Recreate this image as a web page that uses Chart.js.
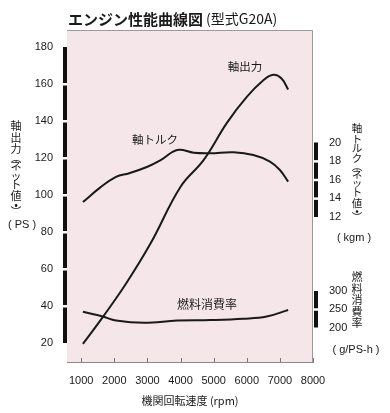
<!DOCTYPE html>
<html>
<head>
<meta charset="utf-8">
<script src="https://cdn.jsdelivr.net/npm/chart.js@4.4.1/dist/chart.umd.min.js"></script>
<style>
  body { margin: 0; background: #fff; }
</style>
</head>
<body>
<canvas id="chart" width="390" height="413"></canvas>
<script>
const rpmTicks = [1000, 2000, 3000, 4000, 5000, 6000, 7000, 8000];
const psTicks = [20, 40, 60, 80, 100, 120, 140, 160, 180];
const torqueTicks = [12, 14, 16, 18, 20];
const fuelTicks = [200, 250, 300];

// 軸出力 (PS)
const powerRpm = [1050, 1650, 2350, 3100, 4000, 4700, 5400, 6000, 6500, 6800, 7050, 7250];
const powerPs = [19.5, 34, 52, 74, 104.5, 119, 139, 153, 162, 165, 163, 157];

// 軸トルク (kgm)
const torqueRpm = [1050, 1550, 2050, 2450, 3000, 3400, 3900, 4400, 4900, 5600, 6200, 6700, 7000, 7250];
const torqueKgm = [13.6, 15.1, 16.3, 16.7, 17.4, 18.1, 19.2, 18.9, 18.85, 18.95, 18.65, 17.95, 17.05, 15.8];

// 燃料消費率 (g/PS-h)
const fuelRpm = [1050, 1650, 2050, 2900, 3900, 4900, 5900, 6600, 7250];
const fuelG = [243, 230, 219, 213, 219, 220.5, 224, 230, 248];

const jp = "'Noto Sans CJK JP', sans-serif";
const ink = "#1a1a1a";

Chart.defaults.font.family = "'Liberation Sans', Arial, sans-serif";
Chart.defaults.color = ink;

const toPoints = (xs, ys) => xs.map((x, i) => ({ x: x, y: ys[i] }));
const setTicks = (list) => (scale) => { scale.ticks = list.map((v) => ({ value: v })); };

function lineSet(xs, ys, axis) {
  return {
    data: toPoints(xs, ys),
    yAxisID: axis,
    borderColor: ink,
    borderWidth: 2,
    pointRadius: 0,
    tension: 0.4,
    fill: false,
  };
}

function drawBar(ctx, scale, ticks, x) {
  const px = ticks.map((v) => scale.getPixelForValue(v));
  const top = Math.min(...px);
  const bottom = Math.max(...px);
  ctx.fillStyle = "#111";
  ctx.fillRect(x, top, 4, bottom - top);
  ctx.fillStyle = "#fff";
  px.slice(1, -1).forEach((p) => ctx.fillRect(x, p - 1, 4, 2.5));
}

function drawVertical(ctx, text, x, y, size) {
  ctx.font = size + "px " + jp;
  ctx.textAlign = "center";
  ctx.textBaseline = "middle";
  for (const ch of text) {
    let step = size * 1.05;
    if ("︵︶•".includes(ch)) step = size * 0.6;
    else if ("ッ".includes(ch)) step = size * 0.8;
    else if ("トルクネ".includes(ch)) step = size * 0.92;
    ctx.fillText(ch, x, y + step / 2);
    y += step;
  }
}

const decor = {
  id: "decor",
  afterLayout(chart) {
    // both right-hand scales share the strip next to the plot
    const s = chart.scales.y3;
    s.left = chart.chartArea.right;
    s.right = chart.width;
    s.width = s.right - s.left;
  },
  beforeDraw(chart) {
    const { ctx, chartArea: a } = chart;
    ctx.save();
    ctx.fillStyle = "#f4e6e9";
    ctx.fillRect(a.left, a.top, a.right - a.left, a.bottom - a.top);
    ctx.strokeStyle = "#9a9a9a";
    ctx.lineWidth = 1;
    ctx.beginPath();
    ctx.moveTo(a.left, a.top + 0.5);
    ctx.lineTo(a.right - 0.5, a.top + 0.5);
    ctx.lineTo(a.right - 0.5, a.bottom);
    ctx.stroke();
    ctx.restore();
  },
  afterDraw(chart) {
    const { ctx, chartArea: a, scales } = chart;
    ctx.save();

    // short ticks into the plot on the rpm axis
    ctx.strokeStyle = "#777";
    ctx.lineWidth = 1;
    rpmTicks.forEach((v) => {
      const px = Math.round(scales.x.getPixelForValue(v)) + 0.5;
      ctx.beginPath();
      ctx.moveTo(px, a.bottom);
      ctx.lineTo(px, a.bottom - 4);
      ctx.stroke();
    });

    drawBar(ctx, scales.y, psTicks, 63);
    drawBar(ctx, scales.y2, torqueTicks, 314);
    drawBar(ctx, scales.y3, fuelTicks, 314);

    ctx.fillStyle = ink;

    // title
    ctx.textAlign = "left";
    ctx.textBaseline = "middle";
    ctx.font = "bold 15px " + jp;
    ctx.fillText("エンジン性能曲線図", 68, 19);
    const w = ctx.measureText("エンジン性能曲線図").width;
    ctx.font = "14px " + jp;
    ctx.fillText("(型式G20A)", 68 + w + 3, 19);

    // axis names
    drawVertical(ctx, "軸出力︵ネット値•︶", 16, 120, 11);
    drawVertical(ctx, "軸トルク︵ネット値•︶", 357, 123, 10.5);
    drawVertical(ctx, "燃料消費率", 357, 271, 11);

    ctx.textAlign = "center";
    ctx.textBaseline = "middle";
    ctx.font = "11px 'Liberation Sans', sans-serif";
    ctx.fillText("( PS )", 22, 225);
    ctx.fillText("( kgm )", 354, 238);
    ctx.fillText("( g/PS-h )", 356, 350);

    // curve names
    ctx.font = "11.5px " + jp;
    ctx.fillText("軸出力", 245, 67);
    ctx.fillText("軸トルク", 155, 140);
    ctx.font = "12px " + jp;
    ctx.fillText("燃料消費率", 207, 304);

    ctx.restore();
  },
};

new Chart(document.getElementById("chart"), {
  type: "line",
  data: {
    datasets: [
      lineSet(powerRpm, powerPs, "y"),
      lineSet(torqueRpm, torqueKgm, "y2"),
      lineSet(fuelRpm, fuelG, "y3"),
    ],
  },
  options: {
    responsive: false,
    animation: false,
    layout: { padding: { top: 30, left: 0, right: 0, bottom: 0 } },
    plugins: {
      legend: { display: false },
      tooltip: { enabled: false },
    },
    scales: {
      x: {
        type: "linear",
        min: 570,
        max: 8000,
        afterBuildTicks: setTicks(rpmTicks),
        afterFit: (s) => { s.height = 51; },
        grid: { display: false },
        border: { display: true, color: "#8a8a8a", width: 1 },
        ticks: {
          padding: 4,
          autoSkip: false,
          maxRotation: 0,
          font: { size: 11 },
          callback: (v) => String(v),
        },
        title: {
          display: true,
          text: "機関回転速度 (rpm)",
          font: { family: jp, size: 11 },
          padding: { top: 0, bottom: 6 },
        },
      },
      y: {
        position: "left",
        min: 9.73,
        max: 189.2,
        afterBuildTicks: setTicks(psTicks),
        afterFit: (s) => { s.width = 67; },
        grid: { display: false },
        border: { display: false },
        ticks: { padding: 6, autoSkip: false, font: { size: 11 } },
      },
      y2: {
        position: "right",
        weight: 0,
        min: -3.57,
        max: 32.08,
        afterBuildTicks: setTicks(torqueTicks),
        afterFit: (s) => { s.width = 77; },
        grid: { display: false },
        border: { display: false },
        ticks: { padding: 8, autoSkip: false, font: { size: 11 } },
      },
      y3: {
        position: "right",
        weight: 2,
        min: 105.5,
        max: 1015,
        afterBuildTicks: setTicks(fuelTicks),
        afterFit: (s) => { s.width = 0; },
        grid: { display: false },
        border: { display: false },
        ticks: { padding: 8, autoSkip: false, font: { size: 11 } },
      },
    },
  },
  plugins: [decor],
});
</script>
</body>
</html>
